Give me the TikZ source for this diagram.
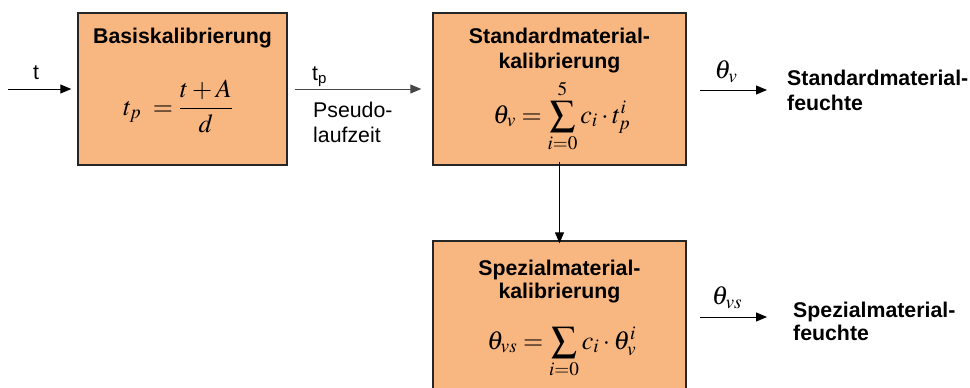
\documentclass[tikz,border=0pt]{standalone}
\usepackage{mathptmx}
\usepackage{graphicx}
\usepackage{fontspec}
\setmainfont{Liberation Sans}
\usetikzlibrary{arrows.meta}
\definecolor{boxfill}{RGB}{248,182,128}
\definecolor{arrgray}{RGB}{70,70,70}
\newcommand{\bigsum}{\mathop{\vcenter{\hbox{\scalebox{1.4}{$\textstyle\sum$}}}}\limits}
\tikzset{
  blk/.style={draw=black!85, line width=1.4pt, fill=boxfill, inner sep=0pt},
  arr/.style={draw=black, line width=0.9pt, -{Triangle[length=11pt,width=9pt]}},
  ttl/.style={font=\fontsize{21.3}{25}\selectfont\bfseries, inner sep=0pt, anchor=base},
  lbl/.style={font=\fontsize{21.3}{25}\selectfont, inner sep=0pt, anchor=base west},
  outl/.style={font=\fontsize{21.3}{25}\selectfont\bfseries, inner sep=0pt, anchor=base west},
  frm/.style={font=\fontsize{26}{30}\selectfont, inner sep=0pt, anchor=base west},
  sfrm/.style={font=\fontsize{26}{30}\selectfont, inner sep=0pt},
}
\begin{document}
\begin{tikzpicture}[x=1pt,y=-1pt]
\useasboundingbox (0,0) rectangle (970,388);
\begin{scope}
\clip (0,0) rectangle (970,388);
% boxes
\node[blk, minimum width=209pt, minimum height=152pt] (b1) at (182.5,89) {};
\node[blk, minimum width=253pt, minimum height=152pt] (b2) at (559.5,89) {};
\node[blk, minimum width=253pt, minimum height=160pt] (b3) at (559.5,321) {};
\end{scope}
% titles
\node[ttl] (t1) at (182.5,43) {Basiskalibrierung};
\node[ttl] (t2a) at (559.5,43) {Standardmaterial-};
\node[ttl] (t2b) at (559.5,68) {kalibrierung};
\node[ttl] (t3a) at (559.5,275) {Spezialmaterial-};
\node[ttl] (t3b) at (559.5,298) {kalibrierung};
% formulas
\node[frm] (f1) at (123,115) {$\displaystyle t_{p}\;=\frac{t+A}{d}$};
\node[frm] (f2) at (493,123) {$\theta_{v}=\bigsum_{i=0}^{5}c_{i}\cdot t_{p}^{i}$};
\node[frm] (f3) at (487,349) {$\theta_{vs}=\bigsum_{i=0}c_{i}\cdot\theta_{v}^{i}$};
% connectors
\coordinate (in) at (8,89);
\draw[arr] (in) -- ([xshift=-6pt]b1.west);
\node[lbl] (lt) at (33,79) {t};
\draw[arr, draw=arrgray] ([xshift=7pt]b1.east) -- ([xshift=-11pt]b2.west);
\node[lbl] (ltp) at (312,80) {t\raisebox{-3pt}{\fontsize{15}{15}\selectfont p}};
\node[lbl] (pl1) at (313,117) {Pseudo-};
\node[lbl] (pl2) at (313,142) {laufzeit};
\draw[arr] ([yshift=4pt]b2.south) -- ([yshift=-3pt]b3.north);
% outputs
\coordinate (o1s) at (700,90);
\coordinate (o1e) at (767,90);
\draw[arr] (o1s) -- (o1e);
\node[sfrm] (th1) at (726,72) {$\theta_{v}$};
\node[outl] (out1a) at (787,85) {Standardmaterial-};
\node[outl] (out1b) at (787,110) {feuchte};
\coordinate (o2s) at (700,317);
\coordinate (o2e) at (767,317);
\draw[arr] (o2s) -- (o2e);
\node[sfrm] (th2) at (727,298) {$\theta_{vs}$};
\node[outl] (out2a) at (793,317) {Spezialmaterial-};
\node[outl] (out2b) at (793,340) {feuchte};
\end{tikzpicture}
\end{document}
